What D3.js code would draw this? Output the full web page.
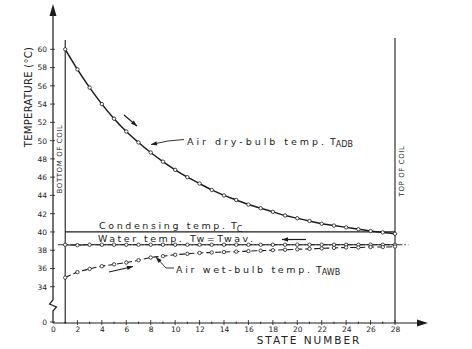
<!DOCTYPE html>
<html><head><meta charset="utf-8">
<script src="https://cdn.jsdelivr.net/npm/d3@7"></script>
<style>
html,body{margin:0;padding:0;background:#fff;}
svg{display:block;}
text{font-family:"DejaVu Sans",sans-serif;fill:#222;}
</style></head>
<body>
<svg id="c" width="472" height="349"></svg>
<script>
const states = [1,2,3,4,5,6,7,8,9,10,11,12,13,14,15,16,17,18,19,20,21,22,23,24,25,26,27,28];
const dryBulb = [60.0,57.8,55.8,54.0,52.4,51.0,49.8,48.7,47.7,46.8,46.0,45.3,44.6,44.0,43.5,43.0,42.6,42.2,41.8,41.5,41.2,40.9,40.7,40.5,40.3,40.1,39.95,39.8];
const waterTemp = [38.6,38.55,38.6,38.6,38.6,38.6,38.6,38.6,38.6,38.6,38.6,38.6,38.6,38.6,38.6,38.6,38.6,38.6,38.6,38.6,38.6,38.6,38.6,38.6,38.6,38.6,38.6,38.6];
const wetBulb = [35.0,35.6,35.95,36.25,36.45,36.65,36.9,37.2,37.35,37.5,37.6,37.7,37.75,37.8,37.85,37.9,37.95,38.0,38.05,38.1,38.15,38.2,38.25,38.3,38.3,38.35,38.35,38.4];
const condensingTemp = 40.0;
const waterAvgTemp = 38.6;
const xTicks = [0,2,4,6,8,10,12,14,16,18,20,22,24,26,28];
const yTicks = [0,34,36,38,40,42,44,46,48,50,52,54,56,58,60];

const svg = d3.select("#c");
const ink = "#1c1c1c";
const x = d3.scaleLinear().domain([0,28]).range([53,395]);
const y = d3.scaleLinear().domain([0,32,60]).range([322,305,49.3]);

// x axis
const xAxis = svg.append("g").attr("transform","translate(0,323)")
  .call(d3.axisBottom(x).tickValues(xTicks).tickSize(0).tickPadding(4).tickFormat(d3.format("d")));
xAxis.select(".domain").remove();
xAxis.selectAll("text").attr("font-size",7.5).attr("font-family","DejaVu Sans").attr("fill","#222");
svg.append("g").selectAll("line").data(d3.range(1,29)).join("line")
  .attr("x1",d=>x(d)).attr("x2",d=>x(d))
  .attr("y1",d=>d%2?321.5:320).attr("y2",d=>d%2?324:325)
  .attr("stroke",ink).attr("stroke-width",0.8);
svg.append("line").attr("x1",53).attr("x2",420).attr("y1",323).attr("y2",323).attr("stroke",ink).attr("stroke-width",1.2);
svg.append("path").attr("d","M428,323 L417,319.5 L417,326.5 Z").attr("fill",ink);

// y axis
const yAxis = svg.append("g").attr("transform","translate(53,0)")
  .call(d3.axisLeft(y).tickValues(yTicks).tickSize(0).tickPadding(6).tickFormat(d3.format("d")));
yAxis.select(".domain").remove();
yAxis.selectAll("text").attr("font-size",7.5).attr("font-family","DejaVu Sans").attr("fill","#222");
svg.append("g").selectAll("line").data(yTicks).join("line")
  .attr("x1",50).attr("x2",55).attr("y1",d=>y(d)).attr("y2",d=>y(d))
  .attr("stroke",ink).attr("stroke-width",0.8);
svg.append("path").attr("d","M53,14 L53,300 L49.5,304 L56.5,307 L53,311 L53,323")
  .attr("fill","none").attr("stroke",ink).attr("stroke-width",1.2);
svg.append("path").attr("d","M53,4 L49.5,16 L56.5,16 Z").attr("fill",ink);

// coil boundaries
svg.append("line").attr("x1",x(1)).attr("x2",x(1)).attr("y1",40).attr("y2",323).attr("stroke",ink).attr("stroke-width",1.1);
svg.append("line").attr("x1",x(28)).attr("x2",x(28)).attr("y1",38).attr("y2",323).attr("stroke",ink).attr("stroke-width",1.1);
svg.append("text").attr("transform",`translate(${x(1)-3},159) rotate(-90)`).attr("text-anchor","middle")
  .attr("font-size",7).attr("letter-spacing",0.6).text("BOTTOM OF COIL");
svg.append("text").attr("transform",`translate(${x(28)+9},171) rotate(-90)`).attr("text-anchor","middle")
  .attr("font-size",7).attr("letter-spacing",0.6).text("TOP OF COIL");

// axis titles
svg.append("text").attr("transform","translate(32,97) rotate(-90)").attr("text-anchor","middle")
  .attr("font-size",10).attr("letter-spacing",0.3).text("TEMPERATURE (°C)");
svg.append("text").attr("x",309).attr("y",344).attr("text-anchor","middle")
  .attr("font-size",10.5).attr("letter-spacing",2).text("STATE NUMBER");

// lines
const line = d3.line().x((d,i)=>x(states[i])).y(d=>y(d)).curve(d3.curveMonotoneX);
svg.append("line").attr("x1",x(1)).attr("x2",x(28)).attr("y1",y(condensingTemp)).attr("y2",y(condensingTemp))
  .attr("stroke",ink).attr("stroke-width",1.2);
svg.append("line").attr("x1",x(0.4)).attr("x2",x(29.1)).attr("y1",y(waterAvgTemp)).attr("y2",y(waterAvgTemp))
  .attr("stroke",ink).attr("stroke-width",0.9).attr("stroke-dasharray","7,2,1.5,2");
svg.append("path").attr("d",line(waterTemp)).attr("fill","none").attr("stroke",ink).attr("stroke-width",1.2);
svg.append("path").attr("d",line(wetBulb)).attr("fill","none").attr("stroke",ink).attr("stroke-width",1.1).attr("stroke-dasharray","6,3");
svg.append("path").attr("d",line(dryBulb)).attr("fill","none").attr("stroke",ink).attr("stroke-width",1.5);

[dryBulb, waterTemp, wetBulb].forEach(s=>{
  svg.append("g").selectAll("circle").data(s).join("circle")
    .attr("cx",(d,i)=>x(states[i])).attr("cy",d=>y(d)).attr("r",1.7)
    .attr("fill","#fff").attr("stroke",ink).attr("stroke-width",0.8);
});

// direction arrows
function arrow(x1,y1,x2,y2,w){
  svg.append("line").attr("x1",x1).attr("y1",y1).attr("x2",x2).attr("y2",y2).attr("stroke",ink).attr("stroke-width",w||1.2);
  const a=Math.atan2(y2-y1,x2-x1), L=6, H=2.2;
  const bx=x2-L*Math.cos(a), by=y2-L*Math.sin(a);
  const px=-Math.sin(a)*H, py=Math.cos(a)*H;
  svg.append("path").attr("d",`M${x2},${y2} L${bx+px},${by+py} L${bx-px},${by-py} Z`).attr("fill",ink);
}
arrow(124,115,137,126);
arrow(306,239.5,282,239.5);
arrow(109,272,133,266.5);
// leaders
svg.append("path").attr("d","M184,139.5 L168,141").attr("fill","none").attr("stroke",ink).attr("stroke-width",0.9);
arrow(168,141,151,144.5,0.9);
svg.append("path").attr("d","M174,268 L166,268").attr("fill","none").attr("stroke",ink).attr("stroke-width",0.9);
arrow(166,268,156,257,0.9);

// labels
function label(tx,ty,main,len,sub){
  svg.append("text").attr("x",tx).attr("y",ty).attr("font-size",9.5)
    .attr("textLength",len).attr("lengthAdjust","spacing").text(main);
  const t = svg.append("text").attr("x",tx+len+6).attr("y",ty).attr("font-size",9.5);
  t.append("tspan").text("T");
  t.append("tspan").attr("dy",2.5).attr("font-size",8).text(sub);
}
label(187,144.5,"Air dry-bulb temp.",137,"ADB");
label(99,229,"Condensing temp.",126,"C");
svg.append("text").attr("x",98).attr("y",242).attr("font-size",9.5)
  .attr("textLength",155).attr("lengthAdjust","spacing").text("Water temp. Tw=Twav.");
label(176,272.5,"Air wet-bulb temp.",134,"AWB");
</script>
</body></html>
